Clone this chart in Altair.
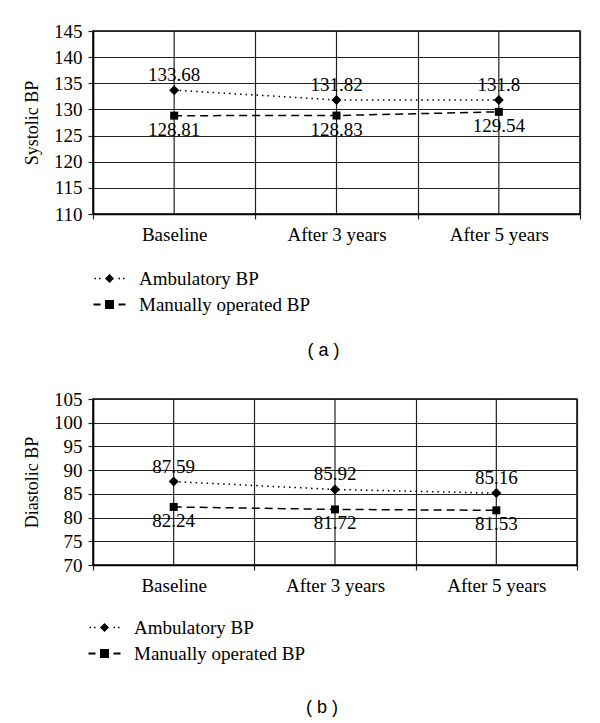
import altair as alt
import pandas as pd

categories = ["Baseline", "After 3 years", "After 5 years"]
series_names = ["Ambulatory BP", "Manually operated BP"]

systolic_ambulatory = [133.68, 131.82, 131.8]
systolic_manual = [128.81, 128.83, 129.54]
diastolic_ambulatory = [87.59, 85.92, 85.16]
diastolic_manual = [82.24, 81.72, 81.53]

systolic_ticks = [110, 115, 120, 125, 130, 135, 140, 145]
diastolic_ticks = [70, 75, 80, 85, 90, 95, 100, 105]

SERIF = "Liberation Serif, Times New Roman, DejaVu Serif, serif"
SANS = "Liberation Sans, Arial, sans-serif"
GRID = "#222222"
FS = 19

# legend symbols: dotted line with diamond, dashed line with square
AMB_SYMBOL = ("M-15,-0.75L-13.5,-0.75L-13.5,0.75L-15,0.75Z "
              "M-10.5,-0.75L-9,-0.75L-9,0.75L-10.5,0.75Z "
              "M-4.5,0L0,-4.5L4.5,0L0,4.5Z "
              "M9,-0.75L10.5,-0.75L10.5,0.75L9,0.75Z "
              "M13.5,-0.75L15,-0.75L15,0.75L13.5,0.75Z")
MAN_SYMBOL = ("M-16,-1L-9,-1L-9,1L-16,1Z "
              "M-4.5,-4.5L4.5,-4.5L4.5,4.5L-4.5,4.5Z "
              "M9,-1L16,-1L16,1L9,1Z")


def fmt(v):
    return ("%.2f" % v).rstrip("0").rstrip(".")


def make_df(amb, man):
    rows = []
    for c, v in zip(categories, amb):
        rows.append({"category": c, "series": series_names[0], "value": v, "label": fmt(v)})
    for c, v in zip(categories, man):
        rows.append({"category": c, "series": series_names[1], "value": v, "label": fmt(v)})
    return pd.DataFrame(rows)


def panel(amb, man, ticks, ytitle, caption, width, height, lx, ly, cap_offset):
    df = make_df(amb, man)
    cat_df = pd.DataFrame({"category": categories})
    base = alt.Chart(df)

    x = alt.X("category:N", sort=categories,
              scale=alt.Scale(type="band", domain=categories, paddingInner=0, paddingOuter=0),
              axis=alt.Axis(title=None, tickBand="extent", grid=True, gridColor=GRID,
                            gridWidth=1.2, gridOpacity=1, tickSize=5, tickColor=GRID, tickWidth=1.2,
                            labelFont=SERIF, labelFontSize=FS, labelColor="black",
                            labelPadding=6, labelAngle=0, domainColor="black", domainWidth=1.5))
    y = alt.Y("value:Q",
              scale=alt.Scale(domain=[ticks[0], ticks[-1]], nice=False, zero=False),
              axis=alt.Axis(values=ticks, title=ytitle, grid=True, gridColor=GRID, gridWidth=1.2,
                            gridOpacity=1, tickSize=5, tickColor=GRID, tickWidth=1.2,
                            labelFont=SERIF, labelFontSize=FS, labelColor="black", labelPadding=6,
                            titleFont=SERIF, titleFontSize=18, titleFontWeight="normal",
                            titleColor="black", titlePadding=12,
                            domainColor="black", domainWidth=1.5))

    vgrid = alt.Chart(cat_df).mark_rule(color=GRID, strokeWidth=1.2).encode(x=x)

    lines = base.mark_line(color="black", strokeWidth=1.5).encode(
        x=x, y=y,
        strokeDash=alt.StrokeDash("series:N",
                                  scale=alt.Scale(domain=series_names, range=[[1.5, 4], [8, 5]]),
                                  legend=None))

    is_amb = alt.datum.series == series_names[0]
    is_man = alt.datum.series == series_names[1]

    diamonds = base.transform_filter(is_amb).mark_point(
        shape="diamond", filled=True, size=100, color="black", opacity=1).encode(x=x, y=y)
    squares = base.transform_filter(is_man).mark_point(
        shape="square", filled=True, size=64, color="black", opacity=1).encode(x=x, y=y)

    lab_amb = base.transform_filter(is_amb).mark_text(
        baseline="bottom", dy=-5, font=SERIF, fontSize=FS, color="black").encode(
        x=x, y=y, text="label:N")
    lab_man = base.transform_filter(is_man).mark_text(
        baseline="top", dy=5, font=SERIF, fontSize=FS, color="black").encode(
        x=x, y=y, text="label:N")

    legend_layer = base.transform_filter("false").mark_point(
        filled=True, size=4, color="black", opacity=1).encode(
        shape=alt.Shape("series:N",
                        scale=alt.Scale(domain=series_names, range=[AMB_SYMBOL, MAN_SYMBOL]),
                        legend=alt.Legend(title=None, orient="none", legendX=lx, legendY=ly,
                                          direction="vertical", labelFont=SERIF, labelFontSize=FS,
                                          labelColor="black", labelOffset=20, labelLimit=400,
                                          rowPadding=6, symbolSize=4, symbolFillColor="black",
                                          symbolStrokeWidth=0, symbolOpacity=1)))

    return alt.layer(vgrid, lines, diamonds, squares, lab_amb, lab_man, legend_layer).resolve_scale(
        shape="independent").properties(
        width=width, height=height,
        title=alt.TitleParams(caption, orient="bottom", font=SANS, fontSize=18, fontWeight="normal",
                              color="black", anchor="middle", frame="group", dx=-13,
                              offset=cap_offset))


top = panel(systolic_ambulatory, systolic_manual, systolic_ticks, "Systolic BP", "( a )",
            487, 183, 7, 238, 27)
bottom = panel(diastolic_ambulatory, diastolic_manual, diastolic_ticks, "Diastolic BP", "( b )",
               484, 166, 2, 219, 35)

chart = alt.vconcat(top, bottom, spacing=28).resolve_scale(
    y="independent", shape="independent", strokeDash="independent").properties(
    padding={"left": 14, "top": 13, "right": 5, "bottom": 5}).configure_view(
    stroke="black", strokeWidth=1.5)

chart.save("out.html", embed_options={"renderer": "svg", "actions": False})
